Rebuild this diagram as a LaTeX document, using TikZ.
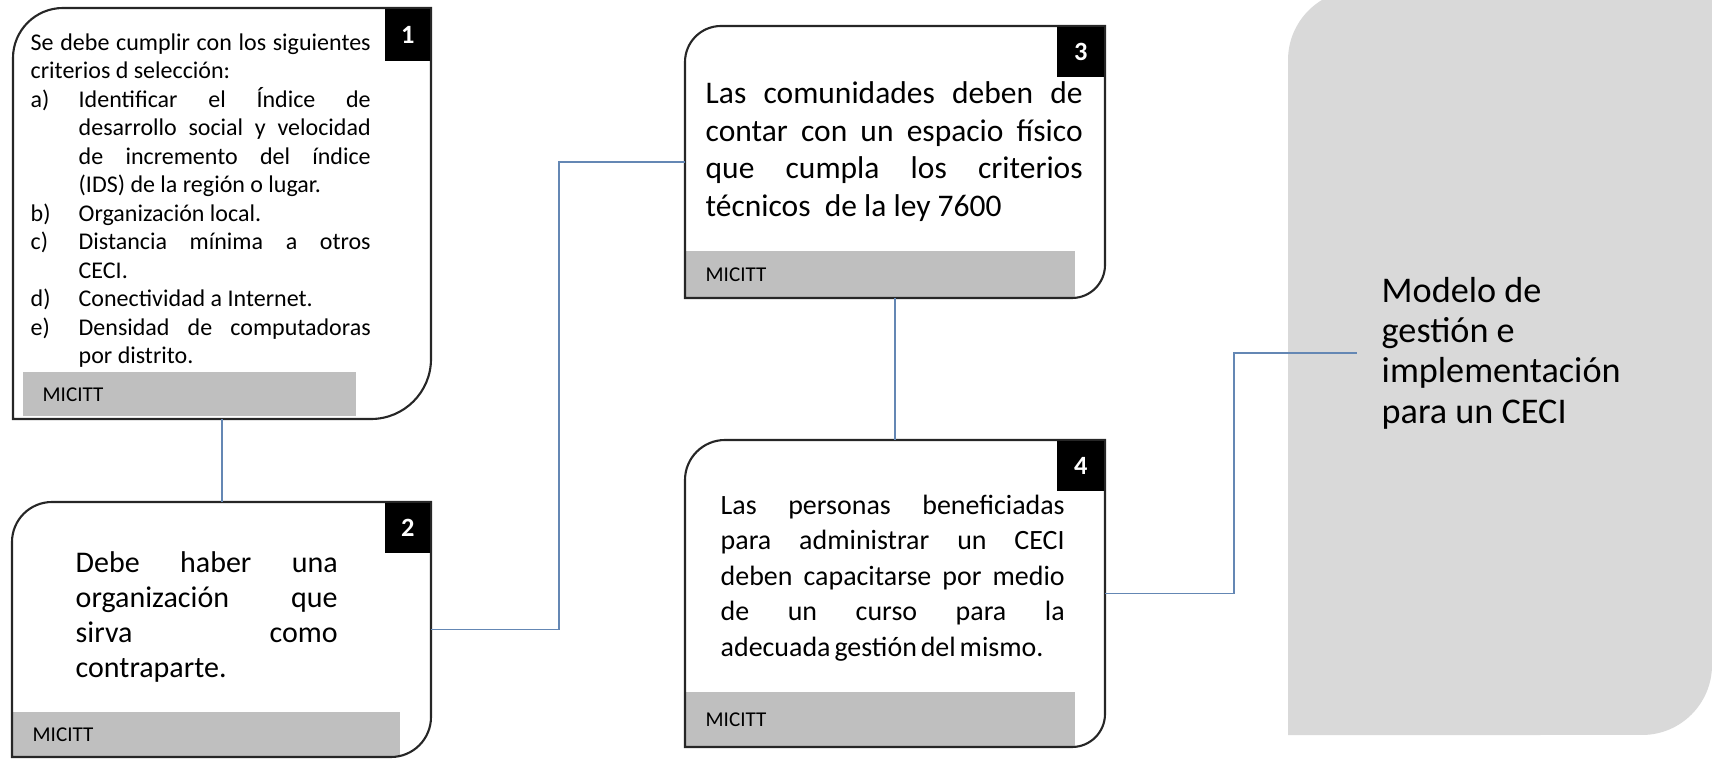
\documentclass[tikz,border=0pt]{standalone}
\usepackage{fontspec}
\setmainfont{Carlito}

\definecolor{linkblue}{RGB}{100,135,180}
\definecolor{srcgray}{RGB}{191,191,191}
\definecolor{panelgray}{RGB}{217,217,217}

\hyphenpenalty=10000
\tolerance=10000
\hbadness=10000

\newcommand{\critem}[1]{\noindent\hangindent=0.48cm\hangafter=0\llap{\makebox[0.48cm][l]{#1}}}

\tikzset{
	cardarea/.style={anchor=north west, inner sep=0pt, outer sep=0pt},
	cardline/.style={draw=black!85, line width=0.6pt},
	numtag/.style={fill=black, text=white, font=\fontsize{7.5pt}{9pt}\selectfont\bfseries, minimum width=0.46cm, minimum height=0.5cm, inner sep=0pt, anchor=north east},
	srcbar/.style={fill=srcgray, anchor=south west, inner xsep=0.2cm, inner ysep=0pt, align=left, font=\fontsize{6pt}{7pt}\selectfont},
	cardtext/.style={anchor=north west, inner sep=0pt, align=justify},
	link/.style={draw=linkblue, line width=0.5pt},
}

\begin{document}
\begin{tikzpicture}
		\useasboundingbox (0,0) rectangle (17.12,-7.60);
		
		% big gray panel on the right
		\fill[panelgray] (12.88,-7.35) -- (12.88,-0.60) arc[start angle=180, end angle=90, radius=0.7] -- (17.12,0.10) -- (17.12,-6.65) arc[start angle=0, end angle=-90, radius=0.7] -- cycle;
		\node(model) at (13.57,-3.53) [anchor=west, inner xsep=0.24cm, align=left, font=\fontsize{10.3pt}{11.5pt}\selectfont] {Modelo de\\gestión e\\implementación\\para un CECI};
		
		\node(b1) at (0.13,-0.08) [cardarea, minimum width=4.18cm, minimum height=4.11cm] {};
		\node(b2) at (0.12,-5.02) [cardarea, minimum width=4.19cm, minimum height=2.55cm] {};
		\node(b3) at (6.85,-0.26) [cardarea, minimum width=4.20cm, minimum height=2.72cm] {};
		\node(b4) at (6.85,-4.40) [cardarea, minimum width=4.20cm, minimum height=3.07cm] {};
		
		\node(s1) at (0.22,-4.17) [srcbar, text width=2.93cm, minimum height=0.44cm] {MICITT};
		\node(s2) at (0.12,-7.57) [srcbar, text width=3.47cm, minimum height=0.44cm] {MICITT};
		\node(s3) at (6.85,-2.98) [srcbar, text width=3.49cm, minimum height=0.46cm] {MICITT};
		\node(s4) at (6.85,-7.47) [srcbar, text width=3.49cm, minimum height=0.54cm] {MICITT};
		
		\draw[cardline] (b1.south west) -- ([yshift=-0.5cm]b1.north west) arc[start angle=180, end angle=90, radius=0.5] -- (b1.north east) -- ([yshift=0.6cm]b1.south east) arc[start angle=0, end angle=-90, radius=0.6] -- cycle;
		\draw[cardline] (b2.south west) -- ([yshift=-0.4cm]b2.north west) arc[start angle=180, end angle=90, radius=0.4] -- (b2.north east) -- ([yshift=0.4cm]b2.south east) arc[start angle=0, end angle=-90, radius=0.4] -- cycle;
		\draw[cardline] (b3.south west) -- ([yshift=-0.36cm]b3.north west) arc[start angle=180, end angle=90, radius=0.36] -- (b3.north east) -- ([yshift=0.33cm]b3.south east) arc[start angle=0, end angle=-90, radius=0.33] -- cycle;
		\draw[cardline] (b4.south west) -- ([yshift=-0.4cm]b4.north west) arc[start angle=180, end angle=90, radius=0.4] -- (b4.north east) -- ([yshift=0.33cm]b4.south east) arc[start angle=0, end angle=-90, radius=0.33] -- cycle;
		
		\node(n1) at (b1.north east) [numtag, minimum width=0.45cm, minimum height=0.52cm] {1};
		\node(n2) at (b2.north east) [numtag, minimum width=0.45cm] {2};
		\node(n3) at (b3.north east) [numtag, minimum width=0.47cm] {3};
		\node(n4) at (b4.north east) [numtag, minimum width=0.47cm] {4};
		
		\node(t1) at (0.30,-0.33) [cardtext, text width=3.40cm, font=\fontsize{6.83pt}{8.1pt}\selectfont] {%
			\noindent Se debe cumplir con los siguientes\linebreak criterios d selección:\par
			\critem{a)}Identificar el Índice de\linebreak desarrollo social y velocidad\linebreak de incremento del índice\linebreak (IDS) de la región o lugar.\par
			\critem{b)}Organización local.\par
			\critem{c)}Distancia mínima a otros\linebreak CECI.\par
			\critem{d)}Conectividad a Internet.\par
			\critem{e)}Densidad de computadoras\linebreak por distrito.\par};
		\node(t2) at (0.75,-5.51) [cardtext, text width=2.62cm, font=\fontsize{8.54pt}{9.96pt}\selectfont] {Debe haber una\linebreak organización que\linebreak sirva como\linebreak contraparte.};
		\node(t3) at (7.05,-0.81) [cardtext, text width=3.77cm, font=\fontsize{8.96pt}{10.73pt}\selectfont] {Las comunidades deben de\linebreak contar con un espacio físico\linebreak que cumpla los criterios\linebreak técnicos\ \ de la ley 7600};
		\node(t4) at (7.20,-4.94) [cardtext, text width=3.44cm, font=\fontsize{7.95pt}{10.1pt}\selectfont] {Las personas beneficiadas\linebreak para administrar un CECI\linebreak {\spaceskip=0.14em plus 0.4em deben capacitarse por medio\linebreak}de un curso para la\linebreak {\spaceskip=0.14em adecuada gestión del mismo.}};
		
		\draw[link] (b1.south) -- (b1.south |- b2.north);
		\draw[link] (b2.east) -- ++(1.28,0) |- (b3.west);
		\draw[link] (b3.south) -- (b4.north);
		\draw[link] (b4.east) -- ++(1.29,0) |- (model.west);
	\end{tikzpicture}
\end{document}
